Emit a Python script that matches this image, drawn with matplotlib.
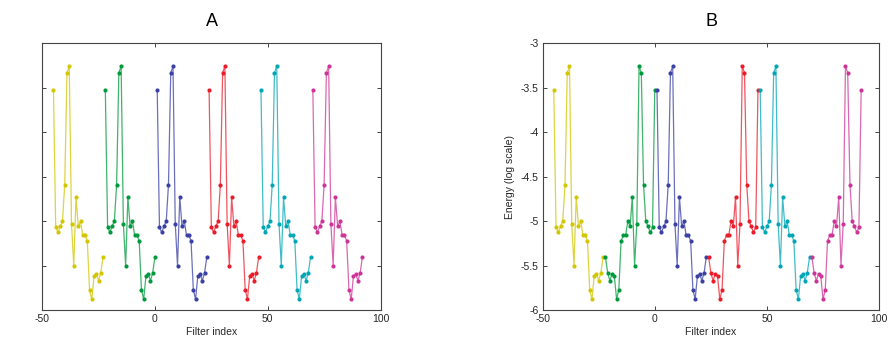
import numpy as np
import matplotlib
matplotlib.use("Agg")
import matplotlib.pyplot as plt

plt.rcParams['font.family'] = ['Liberation Sans', 'DejaVu Sans']

# Log-energy profile of one filter bank block (23 filters)
filter_energy = [-3.53, -5.07, -5.125, -5.06, -5.00, -4.59, -3.33, -3.26,
                 -5.03, -5.50, -4.73, -5.06, -5.00, -5.16, -5.16, -5.22,
                 -5.77, -5.88, -5.62, -5.59, -5.67, -5.58, -5.40]

# Six consecutive blocks, first filter index of each block
block_start = [-45, -22, 1, 24, 47, 70]
block_colors = ['#d2c600', '#009a3c', '#3a40a4', '#ea1c2a', '#00a6b6', '#cc3597']

# Panel B: every second block is mirrored
block_reversed_b = [False, True, False, True, False, True]

x_ticks = [-50, 0, 50, 100]
y_ticks = [-6, -5.5, -5, -4.5, -4, -3.5, -3]
y_ticklabels = ['-6', '-5.5', '-5', '-4.5', '-4', '-3.5', '-3']

fig = plt.figure(figsize=(8.88, 3.37), dpi=100)
ax_a = fig.add_axes([0.0475, 0.080, 0.381, 0.7915])
ax_b = fig.add_axes([0.611, 0.080, 0.379, 0.7915])


def style_axes(ax, show_ylabels):
    ax.set_xlim(-50, 100)
    ax.set_ylim(-6, -3)
    ax.set_xticks(x_ticks)
    ax.set_yticks(y_ticks)
    ax.set_xticklabels([str(t) for t in x_ticks])
    if show_ylabels:
        ax.set_yticklabels(y_ticklabels)
        ax.set_ylabel('Energy (log scale)', fontsize=7.5, color='#262626', labelpad=4)
    else:
        ax.set_yticklabels([])
    ax.tick_params(direction='in', length=3, width=0.6, top=True, right=True,
                   labelsize=7.5, colors='#262626', pad=3)
    for s in ax.spines.values():
        s.set_color('#444444')
        s.set_linewidth(0.8)
    ax.set_xlabel('Filter index', fontsize=7.5, color='#262626', labelpad=2)


def draw_blocks(ax, reversed_flags):
    n = len(filter_energy)
    for start, color, rev in zip(block_start, block_colors, reversed_flags):
        x = np.arange(start, start + n)
        y = np.array(filter_energy[::-1] if rev else filter_energy)
        ax.plot(x, y, '-', color=color, lw=0.9, alpha=0.75)
        ax.plot(x, y, 'o', color=color, ms=3.0, mec='none')


draw_blocks(ax_a, [False] * len(block_start))
draw_blocks(ax_b, block_reversed_b)
style_axes(ax_a, False)
style_axes(ax_b, True)

fig.text(0.239, 0.935, 'A', ha='center', va='center', fontsize=13)
fig.text(0.801, 0.935, 'B', ha='center', va='center', fontsize=13)

fig.savefig('out.png', dpi=100, facecolor='white')
